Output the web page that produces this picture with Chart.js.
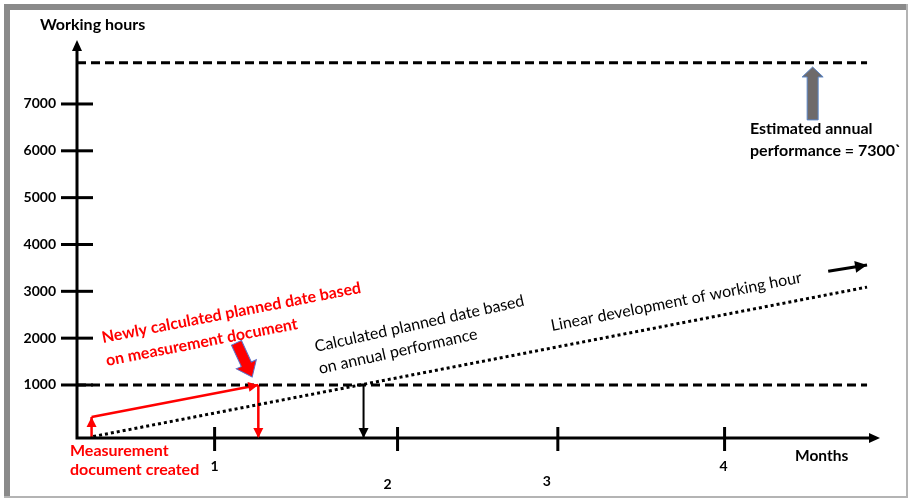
<!DOCTYPE html>
<html>
<head>
<meta charset="utf-8">
<script src="https://cdn.jsdelivr.net/npm/chart.js@4.4.1/dist/chart.umd.min.js"></script>
<style>
  html, body { margin: 0; padding: 0; background: #fff; }
  canvas { display: block; }
</style>
</head>
<body>
<canvas id="chart" width="910" height="499"></canvas>
<script>
// working hours axis
const hourTicks = [1000, 2000, 3000, 4000, 5000, 6000, 7000];
const hourMin = -132;   // level of the month axis
const hourMax = 8366;   // tip of the hours arrow

// month axis: where each month mark sits, and its label
const monthTicks = [0.85, 1.98, 2.97, 4.0];
const monthLabels = ["1", "2", "3", "4"];
const monthMax = 4.96;

// horizontal dashed levels
const annualLevel = 7880;
const thresholdLevel = 1000;
const levelEndMonth = 4.88;

// linear development of working hour (dotted)
const linearMonths = [0.1, 4.88];
const linearHours = [-100, 3090];

// newly calculated planned date based on measurement document (red)
const measuredMonths = [0.09, 1.12];
const measuredHours = [316, 1000];

// calculated planned date based on annual performance
const plannedMonth = 1.77;

// small arrow at the end of the linear development
const trendArrowMonths = [4.64, 4.88];
const trendArrowHours = [3430, 3560];

// block arrows [from, to]
const annualArrowMonths = [4.544, 4.544];
const annualArrowHours = [6660, 7790];
const measuredArrowMonths = [0.985, 1.082];
const measuredArrowHours = [1900, 1170];

const RED = "#ff0000";
const BLACK = "#000000";
const FONT = "Lato, 'Open Sans', sans-serif";

function pts(xs, ys) {
  return xs.map((x, i) => ({ x: x, y: ys[i] }));
}

function lineSet(data, color, width, extra) {
  return Object.assign({
    data: data,
    showLine: true,
    borderColor: color,
    borderWidth: width,
    pointRadius: 0,
    fill: false,
    tension: 0,
  }, extra || {});
}

const datasets = [
  lineSet(pts([0, levelEndMonth], [annualLevel, annualLevel]), BLACK, 3, { borderDash: [9, 5] }),
  lineSet(pts([0, levelEndMonth], [thresholdLevel, thresholdLevel]), BLACK, 3, { borderDash: [9, 5] }),
  lineSet(pts(linearMonths, linearHours), BLACK, 3, { borderDash: [3, 3] }),
  lineSet(pts([measuredMonths[0], measuredMonths[0]], [hourMin, measuredHours[0]]), RED, 2.5, { arrowEnd: true }),
  lineSet(pts(measuredMonths, measuredHours), RED, 2.5, { arrowEnd: true }),
  lineSet(pts([measuredMonths[1], measuredMonths[1]], [measuredHours[1], hourMin]), RED, 2.5, { arrowEnd: true }),
  lineSet(pts([plannedMonth, plannedMonth], [thresholdLevel, hourMin]), BLACK, 2, { arrowEnd: true }),
  lineSet(pts(trendArrowMonths, trendArrowHours), BLACK, 3, { arrowEnd: true }),
];

function arrowHead(ctx, x1, y1, x2, y2, len, half, color) {
  const a = Math.atan2(y2 - y1, x2 - x1);
  ctx.save();
  ctx.fillStyle = color;
  ctx.beginPath();
  ctx.moveTo(x2, y2);
  ctx.lineTo(x2 - len * Math.cos(a) + half * Math.sin(a), y2 - len * Math.sin(a) - half * Math.cos(a));
  ctx.lineTo(x2 - len * Math.cos(a) - half * Math.sin(a), y2 - len * Math.sin(a) + half * Math.cos(a));
  ctx.closePath();
  ctx.fill();
  ctx.restore();
}

function blockArrow(ctx, x1, y1, x2, y2, shaft, headW, headL, fill, stroke) {
  const a = Math.atan2(y2 - y1, x2 - x1);
  const L = Math.hypot(x2 - x1, y2 - y1);
  ctx.save();
  ctx.translate(x1, y1);
  ctx.rotate(a);
  ctx.beginPath();
  ctx.moveTo(0, -shaft / 2);
  ctx.lineTo(L - headL, -shaft / 2);
  ctx.lineTo(L - headL, -headW / 2);
  ctx.lineTo(L, 0);
  ctx.lineTo(L - headL, headW / 2);
  ctx.lineTo(L - headL, shaft / 2);
  ctx.lineTo(0, shaft / 2);
  ctx.closePath();
  ctx.fillStyle = fill;
  ctx.fill();
  ctx.lineWidth = 1;
  ctx.strokeStyle = stroke;
  ctx.stroke();
  ctx.restore();
}

function text(ctx, str, x, y, opts) {
  ctx.save();
  ctx.font = (opts.bold ? "bold " : "") + (opts.size || 14) + "px " + FONT;
  ctx.fillStyle = opts.color || BLACK;
  ctx.textAlign = opts.align || "left";
  ctx.textBaseline = opts.baseline || "middle";
  ctx.translate(x, y);
  if (opts.angle) ctx.rotate(opts.angle * Math.PI / 180);
  ctx.fillText(str, 0, 0);
  ctx.restore();
}

const framePlugin = {
  id: "frame",
  beforeDraw(chart) {
    const ctx = chart.ctx;
    ctx.save();
    ctx.fillStyle = "#ffffff";
    ctx.fillRect(0, 0, chart.width, chart.height);
    ctx.fillStyle = "#8a8a8a";
    ctx.fillRect(4, 4, 903, 6);
    ctx.fillRect(4, 4, 6, 493);
    ctx.fillStyle = "#b4b4b4";
    ctx.fillRect(906, 4, 2, 493);
    ctx.fillRect(4, 496, 904, 2);
    ctx.restore();
  },
};

const axesPlugin = {
  id: "axes",
  afterDatasetsDraw(chart) {
    const ctx = chart.ctx;
    const xs = chart.scales.x;
    const ys = chart.scales.y;
    const ox = xs.getPixelForValue(0);
    const oy = ys.getPixelForValue(hourMin);
    const top = ys.getPixelForValue(hourMax);
    const right = xs.getPixelForValue(monthMax);

    ctx.save();
    ctx.strokeStyle = BLACK;
    ctx.lineWidth = 3;
    ctx.beginPath();
    ctx.moveTo(ox, oy);
    ctx.lineTo(ox, top + 8);
    ctx.moveTo(ox - 1.5, oy);
    ctx.lineTo(right - 8, oy);
    ctx.stroke();
    arrowHead(ctx, ox, oy, ox, top, 11, 5, BLACK);
    arrowHead(ctx, ox, oy, right, oy, 11, 5, BLACK);

    hourTicks.forEach((v) => {
      const py = ys.getPixelForValue(v);
      ctx.beginPath();
      ctx.moveTo(ox - 16, py);
      ctx.lineTo(ox + 16, py);
      ctx.stroke();
      text(ctx, String(v), ox - 21, py, { bold: true, size: 14, align: "right" });
    });

    const labelDrop = [28, 46, 43, 28];
    const labelShift = [0, -10, -11, -1];
    monthTicks.forEach((v, i) => {
      const px = xs.getPixelForValue(v);
      ctx.beginPath();
      ctx.moveTo(px, oy - 11);
      ctx.lineTo(px, oy + 13);
      ctx.stroke();
      text(ctx, monthLabels[i], px + labelShift[i], oy + labelDrop[i], { bold: true, size: 14, align: "center" });
    });
    ctx.restore();

    // arrowheads on flagged datasets
    chart.data.datasets.forEach((ds, i) => {
      if (!ds.arrowEnd) return;
      const meta = chart.getDatasetMeta(i);
      const n = meta.data.length;
      const p1 = meta.data[n - 2], p2 = meta.data[n - 1];
      const w = ds.borderWidth;
      arrowHead(ctx, p1.x, p1.y, p2.x, p2.y, w >= 3 ? 12 : 10, w >= 3 ? 6 : 5, ds.borderColor);
    });

    // block arrows
    blockArrow(ctx,
      xs.getPixelForValue(annualArrowMonths[0]), ys.getPixelForValue(annualArrowHours[0]),
      xs.getPixelForValue(annualArrowMonths[1]), ys.getPixelForValue(annualArrowHours[1]),
      11, 21, 10, "#6e6a6a", "#5b86c8");
    blockArrow(ctx,
      xs.getPixelForValue(measuredArrowMonths[0]), ys.getPixelForValue(measuredArrowHours[0]),
      xs.getPixelForValue(measuredArrowMonths[1]), ys.getPixelForValue(measuredArrowHours[1]),
      11, 22, 14, RED, "#5b6fc8");

    // labels
    text(ctx, "Working hours", 40, 25, { bold: true, size: 16 });
    text(ctx, "Months", 795, 456, { bold: true, size: 15.5 });
    text(ctx, "Estimated annual", 750, 129, { bold: true, size: 16 });
    text(ctx, "performance = 7300`", 750, 151, { bold: true, size: 16 });
    text(ctx, "Measurement", 70, 451, { bold: true, size: 16, color: RED });
    text(ctx, "document created", 70, 470, { bold: true, size: 16, color: RED });

    const rb = { bold: true, size: 16, color: RED, baseline: "alphabetic", angle: -11 };
    text(ctx, "Newly calculated planned date based", 103, 343, rb);
    text(ctx, "on measurement document", 107, 366, rb);

    const kb = { size: 16, baseline: "alphabetic", angle: -12.5 };
    text(ctx, "Calculated planned date based", 316, 352, kb);
    text(ctx, "on annual performance", 320, 374, kb);
    text(ctx, "Linear development of working hour", 552, 331, { size: 16, baseline: "alphabetic", angle: -11 });
  },
};

new Chart(document.getElementById("chart"), {
  type: "scatter",
  data: { datasets: datasets },
  options: {
    responsive: false,
    animation: false,
    events: [],
    layout: { padding: { left: 77, right: 30, top: 40, bottom: 61 } },
    scales: {
      x: { type: "linear", min: 0, max: monthMax, display: false },
      y: { type: "linear", min: hourMin, max: hourMax, display: false },
    },
    plugins: {
      legend: { display: false },
      tooltip: { enabled: false },
    },
  },
  plugins: [framePlugin, axesPlugin],
});
</script>
</body>
</html>
